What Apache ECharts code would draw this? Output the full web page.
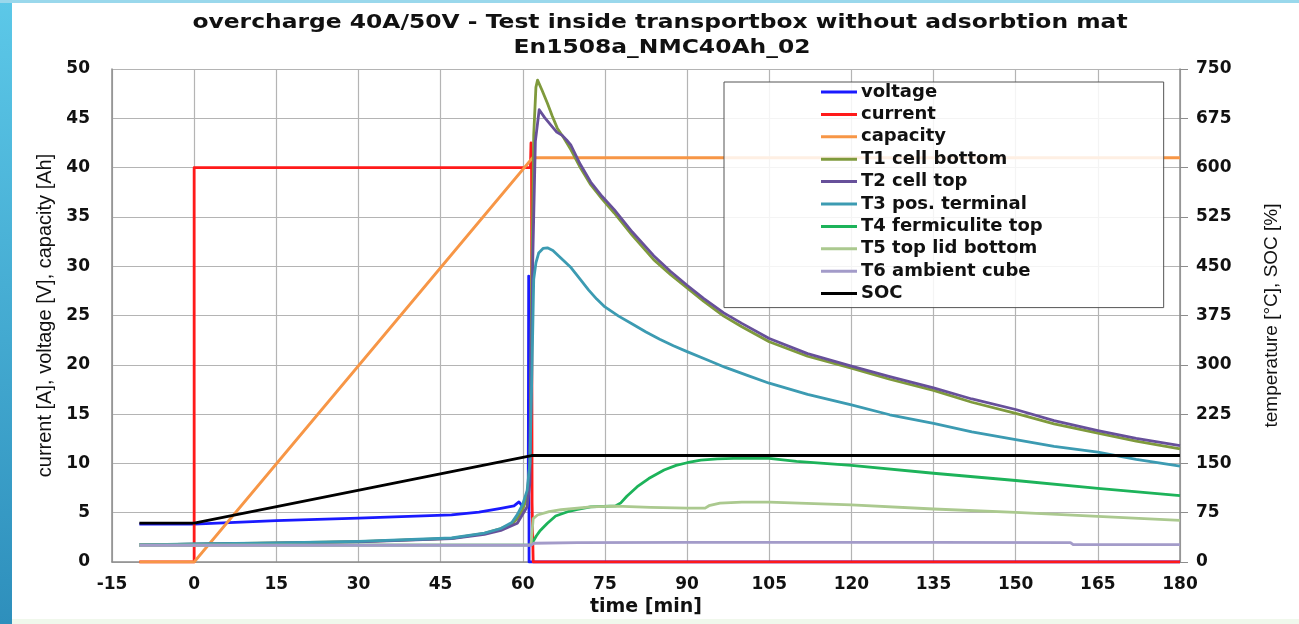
<!DOCTYPE html>
<html>
<head>
<meta charset="utf-8">
<script src="https://cdn.jsdelivr.net/npm/echarts@6/dist/echarts.min.js"></script>
<style>
html,body{margin:0;padding:0;background:#fff;}
#chart{width:1299px;height:624px;}
</style>
</head>
<body>
<div id="chart"></div>
<script>
// ---- data (time in min, value) ----
const titleLine1 = 'overcharge 40A/50V - Test inside transportbox without adsorbtion mat';
const titleLine2 = 'En1508a_NMC40Ah_02';
const seriesNames = ['voltage','current','capacity','T1 cell bottom','T2 cell top','T3 pos. terminal','T4 fermiculite top','T5 top lid bottom','T6 ambient cube','SOC'];

const voltage = [[-10,3.85],[0,3.85],[0.2,4.0],[15,4.2],[30,4.45],[47,4.77],[52,5.05],[56,5.45],[58.4,5.7],[59.3,6.1],[59.9,5.7],[60.4,6.0],[60.8,6.6],[61.0,7.5],[61.08,29],[61.15,0],[180,0]];
const current = [[-10,0],[0,0],[0,40],[61.4,40],[61.5,42.5],[61.6,40.5],[61.7,6],[61.9,0],[180,0]];
const capacity = [[-10,0],[0,0],[61.8,41],[180,41]];
const t1CellBottom = [[-10,26],[0,27],[15,29],[30,31],[47,36],[53,43.5],[56,51],[58,58],[59,66],[60,80],[60.8,100],[61.3,150],[61.6,400],[62.0,650],[62.4,722],[62.7,733],[63.5,718],[64.5,698],[65.4,678],[66.3,660],[67.5,645],[68.8,627],[70.5,600],[72.4,574],[74.5,552],[76.7,531],[80,497],[83.9,460],[87,437],[90,417],[93,397],[96.7,374],[100,358],[105,335],[112,313],[120,295],[127,278],[135,261],[142,243],[150,226],[157,210],[165,196],[172,184],[180,172]];
const t2CellTop = [[-10,26],[0,27],[15,28.5],[30,30.5],[47,35.5],[53,42],[56,48],[59,59],[60.8,84],[61.3,120],[61.8,450],[62.3,640],[63,688],[64,676],[65.4,662],[66.2,654],[67.2,649],[68,642],[68.8,634],[70.5,605],[72.4,578],[74.5,556],[76.7,536],[80,502],[83.9,466],[87,442],[90,421],[93,401],[96.7,379],[100,363],[105,340],[112,317],[120,298],[127,282],[135,265],[142,248],[150,232],[157,215],[165,200],[172,188],[180,177]];
const t3PosTerminal = [[-10,26],[0,27.5],[15,29],[30,31.5],[47,36.5],[53,44],[56,51],[58,60],[59,72],[60,88],[60.8,109],[61.3,150],[61.7,300],[62.0,430],[62.4,455],[62.9,470],[63.7,477],[64.5,478],[65.5,474],[67,462],[68.8,448],[70.5,430],[72,414],[73.5,400],[75,388],[77.5,374],[80,362],[82.5,350],[85,339],[87.5,329],[90,320],[93.5,308],[97,296],[101,284],[105,272],[112,255],[120,239],[127,224],[135,211],[142,198],[150,186],[157,176],[165,167],[172,156],[180,146]];
const t4FermiculiteTop = [[-10,25.5],[61.5,26],[61.8,30],[62.5,40],[63.2,48],[64.5,59],[66,70],[68.2,76.5],[70,80],[72.4,84],[77,85.5],[77.9,90],[79,100],[80.9,114.5],[83,127],[85.8,140],[88,147],[90,151],[92.5,155],[95.5,157],[100,158],[105,157.5],[110,153],[120,147],[135,135],[150,124],[165,112],[180,101]];
const t5TopLidBottom = [[-10,25.5],[61.5,26],[61.7,45],[61.9,66],[62.7,71.5],[64.8,76.5],[67,79.5],[72.4,84],[77,85],[83.3,83],[90,82],[93.3,82],[94,85.6],[96,89.7],[100,91],[105,91],[120,87],[135,80.6],[150,75.5],[165,69.4],[180,63.3]];
const t6AmbientCube = [[-10,25.5],[61.5,25.5],[62,28.5],[70,29.5],[90,30],[135,30],[160,29.5],[160.5,26.5],[180,26.5]];
const soc = [[-10,59],[0,59],[61.6,162],[180,162]];

const xMin = -15, xMax = 180, xStep = 15;
const yLeftMax = 50, yLeftStep = 5;
const yRightMax = 750, yRightStep = 75;

const colors = ['#1a1aff','#ff1a1a','#f79646','#7f9a3c','#67509a','#3c9bb2','#1db35a','#abc98f','#a39bc9','#000000'];
const seriesData = [voltage,current,capacity,t1CellBottom,t2CellTop,t3PosTerminal,t4FermiculiteTop,t5TopLidBottom,t6AmbientCube,soc];
const onRight = [false,false,false,true,true,true,true,true,true,true];

const chart = echarts.init(document.getElementById('chart'), null, {renderer:'canvas'});
const boldFont = 'DejaVu Sans';
const series = seriesNames.map((n,i)=>({
  name:n, type:'line', data:seriesData[i], yAxisIndex: onRight[i]?1:0,
  showSymbol:false, symbol:'none', smooth:false,
  lineStyle:{color:colors[i], width:2.8, join:'round'}, itemStyle:{color:colors[i]},
  z: 2+i*0.01, emphasis:{disabled:true}
}));

chart.setOption({
  animation:false,
  backgroundColor:'#ffffff',
  graphic:[
    {type:'rect', shape:{x:0,y:0,width:12,height:624}, style:{fill:new echarts.graphic.LinearGradient(0,0,0,1,[{offset:0,color:'#5cc8e8'},{offset:1,color:'#2e8fbc'}])}, z:-1},
    {type:'rect', shape:{x:0,y:0,width:1299,height:3}, style:{fill:'#9ad8ec'}, z:-1},
    {type:'rect', shape:{x:12,y:619,width:1287,height:5}, style:{fill:'#f0f8ec'}, z:-1},
    {type:'text', x:660, y:23, scaleX:1.17, style:{text:titleLine1, font:'bold 20px "DejaVu Sans"', fill:'#111', align:'center', verticalAlign:'middle'}},
    {type:'text', x:662, y:48, scaleX:1.17, style:{text:titleLine2, font:'bold 20px "DejaVu Sans"', fill:'#111', align:'center', verticalAlign:'middle'}}
  ],
  grid:{left:112, right:119, top:69, bottom:62, containLabel:false},
  legend:{
    orient:'vertical', left:724, top:82,
    data:seriesNames, selectedMode:false, icon:'rect',
    backgroundColor:'rgba(255,255,255,0.85)', borderColor:'#555', borderWidth:1,
    padding:[1, 121, 5, 97],
    itemWidth:36, itemHeight:3, itemGap:4.4,
    textStyle:{fontFamily:boldFont, fontWeight:'bold', fontSize:18, color:'#111', lineHeight:18, padding:[0,0,0,-1]}
  },
  xAxis:{
    type:'value', min:xMin, max:xMax, interval:xStep,
    name:'time [min]', nameLocation:'middle', nameGap:34,
    nameTextStyle:{fontFamily:boldFont, fontWeight:'bold', fontSize:19, color:'#111'},
    axisLine:{show:true, onZero:false, lineStyle:{color:'#8c8c8c', width:1.5}},
    axisTick:{show:false},
    axisLabel:{fontFamily:boldFont, fontWeight:'bold', fontSize:17, color:'#111', margin:14},
    splitLine:{show:true, lineStyle:{color:'#b4b4b4', width:1.2}}
  },
  yAxis:[
    {
      type:'value', min:0, max:yLeftMax, interval:yLeftStep, position:'left',
      name:'current [A], voltage [V], capacity [Ah]', nameLocation:'middle', nameGap:56,
      nameTextStyle:{fontFamily:'Liberation Sans', fontSize:20, color:'#111'},
      axisLine:{show:true, onZero:false, lineStyle:{color:'#8c8c8c', width:1.5}},
      axisTick:{show:false},
      axisLabel:{fontFamily:boldFont, fontWeight:'bold', fontSize:17, color:'#111', margin:22},
      splitLine:{show:true, lineStyle:{color:'#b4b4b4', width:1.2}}
    },
    {
      type:'value', min:0, max:yRightMax, interval:yRightStep, position:'right',
      name:'temperature [°C], SOC [%]', nameLocation:'middle', nameGap:82,
      nameTextStyle:{fontFamily:'Liberation Sans', fontSize:19, color:'#111'},
      axisLine:{show:true, onZero:false, lineStyle:{color:'#8c8c8c', width:1.5}},
      axisTick:{show:true, length:8, inside:false, lineStyle:{color:'#8c8c8c'}},
      axisLabel:{fontFamily:boldFont, fontWeight:'bold', fontSize:17, color:'#111', margin:16},
      splitLine:{show:false}
    }
  ],
  series: series
});
</script>
</body>
</html>
